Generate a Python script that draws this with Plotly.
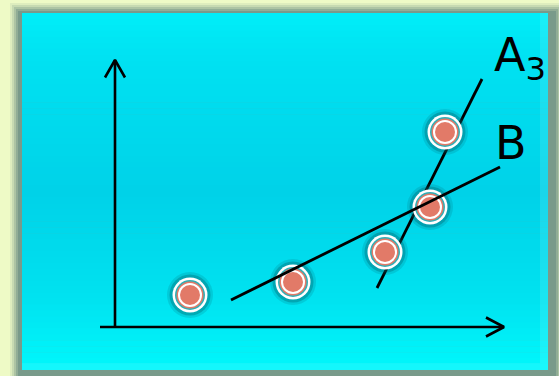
import plotly.graph_objects as go

# ---- data (chart units) ----
point_x = [7.5, 17.8, 27.0, 31.5, 33.0]
point_y = [3.2, 4.5, 7.5, 12.0, 19.5]

line_a_x = [26.2, 36.7]
line_a_y = [3.9, 24.8]
line_b_x = [11.6, 38.5]
line_b_y = [2.7, 16.0]

axis_x_end = [-1.5, 38.9]   # horizontal axis extent
axis_y_end = [0.0, 26.7]    # vertical axis extent

label_text = ["A<sub>3</sub>", "B"]
label_x = [37.9, 38.0]
label_y = [24.5, 15.7]

W, H = 559, 376

def px_rect(x0, y0, x1, y1, color, opacity=1.0):
    return dict(type="rect", xref="paper", yref="paper", layer="below",
                x0=x0 / W, x1=x1 / W, y0=1 - y1 / H, y1=1 - y0 / H,
                fillcolor=color, opacity=opacity, line=dict(width=0))

shapes = []
# soft dark frame around the panel
for inset, op in [(0, 0.12), (2, 0.2), (4, 0.3), (6, 0.45), (8, 0.7)]:
    shapes.append(px_rect(10 + inset, 3 + inset, 564 - inset, 386 - inset, "#6f9284", op))

# vertical cyan gradient, built from thin stripes
stops = [(0.0, (0x00, 0xee, 0xf8)), (0.12, (0x00, 0xe2, 0xf2)), (0.5, (0x00, 0xd2, 0xe8)),
         (0.8, (0x00, 0xe2, 0xf0)), (1.0, (0x00, 0xf8, 0xfc))]

def grad(t):
    for (t0, c0), (t1, c1) in zip(stops[:-1], stops[1:]):
        if t <= t1:
            f = (t - t0) / (t1 - t0)
            return "rgb(%d,%d,%d)" % tuple(round(a + (b - a) * f) for a, b in zip(c0, c1))
    return "rgb(%d,%d,%d)" % stops[-1][1]

top, bot, left, right = 13, 370, 22, 548
n = 60
for i in range(n):
    y0 = top + (bot - top) * i / n
    y1 = top + (bot - top) * (i + 1) / n + 0.6
    shapes.append(px_rect(left, y0, right, min(y1, bot), grad((i + 0.5) / n)))
# light inner sheen at right and bottom edges
shapes.append(px_rect(540, top, right, bot, "#ffffff", 0.10))
shapes.append(px_rect(left, 363, 540, bot, "#ffffff", 0.08))

fig = go.Figure()

# line A3 (behind markers)
fig.add_trace(go.Scatter(x=line_a_x, y=line_a_y, mode="lines",
                         line=dict(color="black", width=2.8), hoverinfo="skip"))

# layered markers
layers = [
    (46, "rgba(0,90,100,0.16)"),
    (41, "rgba(0,90,100,0.32)"),
    (35, "#ffffff"),
    (30, "#2fb0b8"),
    (27, "#e27a68"),
    (24, "#ffffff"),
    (20, "#e27a68"),
]
for size, color in layers:
    fig.add_trace(go.Scatter(x=point_x, y=point_y, mode="markers",
                             marker=dict(size=size, color=color, line=dict(width=0)),
                             hoverinfo="skip"))

# line B (over markers)
fig.add_trace(go.Scatter(x=line_b_x, y=line_b_y, mode="lines",
                         line=dict(color="black", width=2.8), hoverinfo="skip"))

# axes with open arrowheads
ax_line = dict(color="black", width=2.6)
fig.add_trace(go.Scatter(x=axis_x_end, y=[0, 0], mode="lines", line=ax_line, hoverinfo="skip"))
fig.add_trace(go.Scatter(x=[0, 0], y=axis_y_end, mode="lines", line=ax_line, hoverinfo="skip"))
hx, hy = axis_x_end[1], 0.0
fig.add_trace(go.Scatter(x=[hx - 1.8, hx, hx - 1.8], y=[hy + 0.95, hy, hy - 0.95],
                         mode="lines", line=ax_line, hoverinfo="skip"))
vx, vy = 0.0, axis_y_end[1]
fig.add_trace(go.Scatter(x=[vx - 1.0, vx, vx + 1.0], y=[vy - 1.75, vy, vy - 1.75],
                         mode="lines", line=ax_line, hoverinfo="skip"))

# line labels
fig.add_trace(go.Scatter(x=label_x, y=label_y, mode="text", text=label_text,
                         textposition="top right", hoverinfo="skip",
                         textfont=dict(family="DejaVu Sans", size=46, color="black")))

fig.update_layout(
    width=W, height=H,
    margin=dict(l=0, r=0, t=0, b=0),
    showlegend=False,
    paper_bgcolor="#eefac6", plot_bgcolor="rgba(0,0,0,0)",
    xaxis=dict(range=[-11.5, 44.4], visible=False, fixedrange=True),
    yaxis=dict(range=[-4.9, 32.7], visible=False, fixedrange=True),
    shapes=shapes,
)

post = "document.body.style.margin='0';document.body.style.overflow='hidden';"
fig.write_html("out.html", post_script=post, config={"displayModeBar": False})
